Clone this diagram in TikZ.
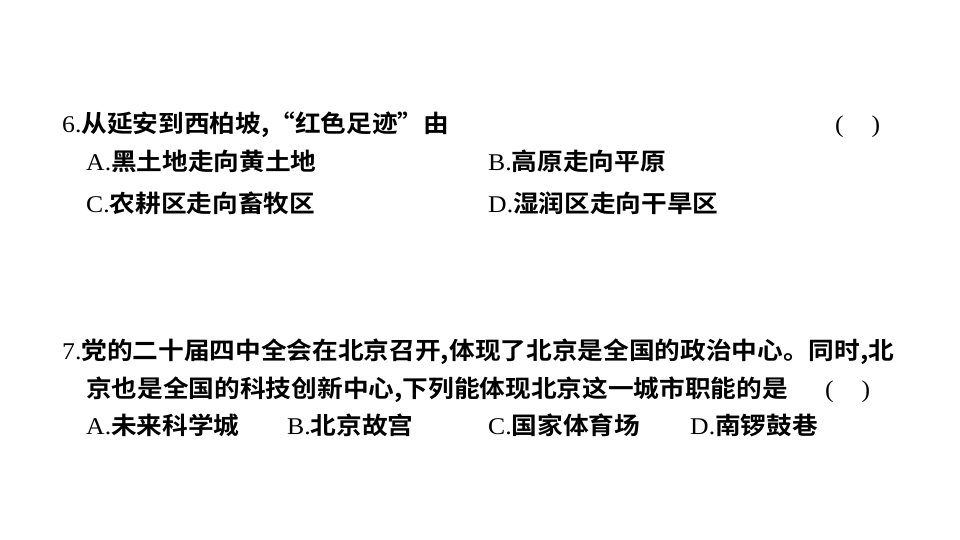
\documentclass[tikz,border=0pt]{standalone}
\usepackage{fontspec}
\setmainfont{Liberation Serif}
\newfontfamily\cjk{Noto Sans CJK SC}[BoldFont=* Bold]
\tikzset{t/.style={anchor=base west,inner sep=0pt,font=\fontsize{24}{24}\selectfont,xscale=1.07}}
\newcommand{\C}[1]{{\cjk\bfseries #1}}
\begin{document}
\begin{tikzpicture}[x=1pt,y=-1pt]
\useasboundingbox (0,0) rectangle (960,540);
\node[t] (q6) at (62,133) {6.\C{从延安到西柏坡,“红色足迹”由}};
\node[t] (p6) at (835,133) {(\hspace{26pt})};
\node[t] (a6) at (86,171) {A.\C{黑土地走向黄土地}};
\node[t] (b6) at (488,171) {B.\C{高原走向平原}};
\node[t] (c6) at (86,212) {C.\C{农耕区走向畜牧区}};
\node[t] (d6) at (488,212) {D.\C{湿润区走向干旱区}};
\node[t] (q7) at (62,359) {7.\C{党的二十届四中全会在北京召开,体现了北京是全国的政治中心。同时,北}};
\node[t] (q7b) at (86,397) {\C{京也是全国的科技创新中心,下列能体现北京这一城市职能的是}};
\node[t] (p7) at (825,397) {(\hspace{26pt})};
\node[t] (a7) at (86,434) {A.\C{未来科学城}};
\node[t] (b7) at (287,434) {B.\C{北京故宫}};
\node[t] (c7) at (488,434) {C.\C{国家体育场}};
\node[t] (d7) at (690,434) {D.\C{南锣鼓巷}};
\end{tikzpicture}
\end{document}
